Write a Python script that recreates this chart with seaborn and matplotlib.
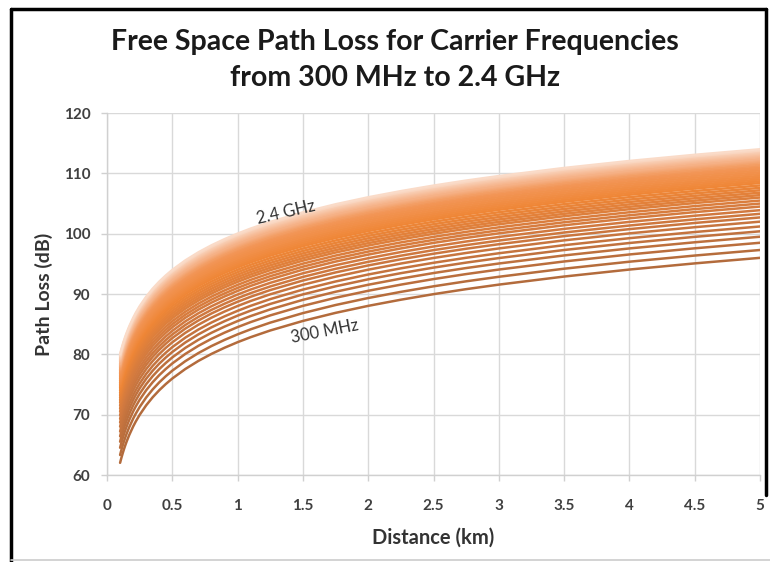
import matplotlib
matplotlib.use("Agg")
import matplotlib.pyplot as plt
from matplotlib.colors import LinearSegmentedColormap
from matplotlib.lines import Line2D
import pandas as pd
import seaborn as sns

# Distance samples (km) and path loss of the lowest carrier (300 MHz), in dB
distance_km = [0.1, 0.105, 0.11, 0.12, 0.13, 0.14, 0.15, 0.17, 0.2, 0.22,
               0.25, 0.3, 0.35, 0.4, 0.45, 0.5, 0.6, 0.7, 0.8, 0.9, 1.0, 1.1,
               1.25, 1.5, 1.75, 2.0, 2.25, 2.5, 2.75, 3.0, 3.5, 4.0, 4.5, 5.0]
loss_300mhz_db = [61.98, 62.40, 62.81, 63.56, 64.26, 64.90, 65.50, 66.59,
                  68.00, 68.83, 69.94, 71.52, 72.86, 74.02, 75.04, 75.96,
                  77.54, 78.88, 80.04, 81.06, 81.98, 82.81, 83.92, 85.50,
                  86.84, 88.00, 89.02, 89.94, 90.77, 91.52, 92.86, 94.02,
                  95.04, 95.96]

# Carrier frequencies (MHz) and the path loss each one reaches at 5 km (dB)
freq_mhz = list(range(300, 2401, 50))
loss_at_5km_db = [96.0, 97.3, 98.5, 99.5, 100.4, 101.2, 102.0, 102.7, 103.3,
                  103.9, 104.5, 105.0, 105.5, 106.0, 106.4, 106.8, 107.2,
                  107.6, 108.0, 108.4, 108.7, 109.0, 109.3, 109.6, 109.9,
                  110.2, 110.5, 110.8, 111.0, 111.3, 111.5, 111.8, 112.0,
                  112.2, 112.4, 112.7, 112.9, 113.1, 113.3, 113.5, 113.7,
                  113.8, 114.0]

x_ticks = [0, 0.5, 1, 1.5, 2, 2.5, 3, 3.5, 4, 4.5, 5]
x_tick_labels = ["0", "0.5", "1", "1.5", "2", "2.5", "3", "3.5", "4", "4.5", "5"]
y_ticks = [60, 70, 80, 90, 100, 110, 120]

# Each carrier's curve keeps the 300 MHz shape, lifted to its own 5 km level
rows = []
for f, end in zip(freq_mhz, loss_at_5km_db):
    shift = end - loss_300mhz_db[-1]
    for d, base in zip(distance_km, loss_300mhz_db):
        rows.append({"Distance (km)": d, "Path Loss (dB)": base + shift,
                     "Frequency (MHz)": f})
df = pd.DataFrame(rows)

sns.set_theme(style="white")
plt.rcParams["font.family"] = ["Lato", "DejaVu Sans"]

cmap = LinearSegmentedColormap.from_list(
    "carrier",
    [(0.0, "#B36B3C"), (0.22, "#D27A40"), (0.45, "#EF8636"),
     (0.68, "#F29657"), (0.85, "#F6B993"), (1.0, "#FADBC8")])
palette = {f: cmap((f - freq_mhz[0]) / (freq_mhz[-1] - freq_mhz[0]))
           for f in freq_mhz}

fig = plt.figure(figsize=(7.7, 5.62), dpi=100)
ax = fig.add_axes([0.139, 0.1548, 0.848, 0.644])

sns.lineplot(data=df, x="Distance (km)", y="Path Loss (dB)",
             hue="Frequency (MHz)", palette=palette, legend=False,
             linewidth=1.8, ax=ax, sort=False, estimator=None, zorder=3)

ax.set_xlim(0, 5)
ax.set_ylim(60, 120)
ax.set_xticks(x_ticks)
ax.set_xticklabels(x_tick_labels)
ax.set_yticks(y_ticks)
ax.grid(True, color="#D9D9D9", linewidth=1.0, zorder=0)
ax.set_axisbelow(True)
for side in ["top", "right"]:
    ax.spines[side].set_visible(False)
for side in ["left", "bottom"]:
    ax.spines[side].set_color("#D0D0D0")
    ax.spines[side].set_linewidth(1.0)
ax.tick_params(axis="both", which="both", length=4, width=1.0,
               color="#D0D0D0", labelsize=11, labelcolor="#404040",
               bottom=True, left=True)
ax.tick_params(axis="x", pad=13)
ax.tick_params(axis="y", pad=8)
for lbl in ax.get_xticklabels() + ax.get_yticklabels():
    lbl.set_fontweight("bold")

ax.set_xlabel("Distance (km)", fontsize=14.5, fontweight="bold",
              color="#333333", labelpad=11)
ax.set_ylabel("Path Loss (dB)", fontsize=14, fontweight="bold",
              color="#333333", labelpad=8)

fig.text(0.513, 0.925, "Free Space Path Loss for Carrier Frequencies",
         ha="center", va="center", fontsize=20.5, fontweight="bold",
         color="#1A1A1A")
fig.text(0.513, 0.862, "from 300 MHz to 2.4 GHz",
         ha="center", va="center", fontsize=20.5, fontweight="bold",
         color="#1A1A1A")

ax.text(1.37, 103.6, "2.4 GHz", fontsize=12, color="#333333",
        rotation=13, ha="center", va="center", zorder=5)
ax.text(1.67, 83.8, "300 MHz", fontsize=12, color="#333333",
        rotation=11, ha="center", va="center", zorder=5)

# Frame around the whole picture
fig.add_artist(Line2D([11 / 770, 766 / 770], [1 - 9 / 562, 1 - 9 / 562],
                      transform=fig.transFigure, color="black", linewidth=2.5))
fig.add_artist(Line2D([11 / 770, 11 / 770], [1 - 9 / 562, 0],
                      transform=fig.transFigure, color="black", linewidth=2.5))
fig.add_artist(Line2D([766 / 770, 766 / 770], [1 - 9 / 562, 1 - 495 / 562],
                      transform=fig.transFigure, color="black", linewidth=2.5))
fig.add_artist(Line2D([11 / 770, 770 / 770], [2 / 562, 2 / 562],
                      transform=fig.transFigure, color="#CCCCCC", linewidth=1.2))

fig.savefig("out.png", dpi=100)
